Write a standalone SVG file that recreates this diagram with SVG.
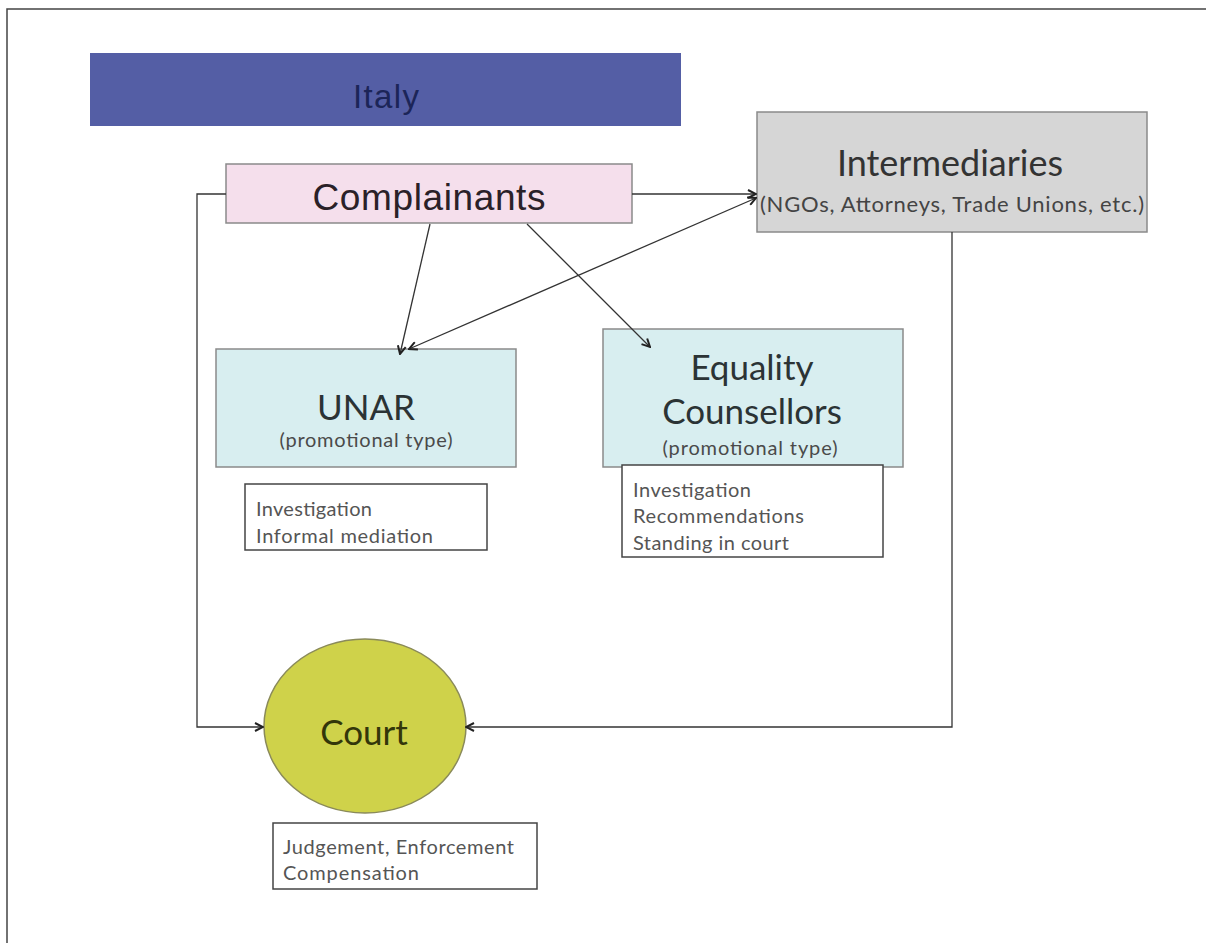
<svg xmlns="http://www.w3.org/2000/svg" width="1206" height="943" viewBox="0 0 1206 943">
<defs>
<marker id="arr" viewBox="0 0 10 10" refX="9" refY="5" markerWidth="10" markerHeight="10" markerUnits="userSpaceOnUse" orient="auto-start-reverse">
<path d="M1,1 L9,5 L1,9" fill="none" stroke="#222" stroke-width="2"/>
</marker>
<style>
.cal{font-family:Lato,"Open Sans","Liberation Sans",sans-serif;}
.ar{font-family:"Liberation Sans",Arial,sans-serif;}
.box{stroke:#8a8a8a;stroke-width:1.5;}
.sub{fill:#fff;stroke:#444;stroke-width:1.5;}
.conn{fill:none;stroke:#333;stroke-width:1.3;}
.small{font-size:20px;fill:#555;}
.promo{fill:#4a4a4a;font-size:20px;}
.title{font-size:35px;fill:#2b3335;}
</style>
</defs>
<rect width="1206" height="943" fill="#fff"/>
<path d="M7,943 V9 H1206" fill="none" stroke="#444" stroke-width="1.5"/>

<g id="italy">
<rect x="90" y="53" width="591" height="73" fill="#545ea5"/>
<text x="386" y="108" text-anchor="middle" class="ar" font-size="33" fill="#1c2558" textLength="66">Italy</text>
</g>

<g id="complainants">
<rect class="box" x="226" y="164" width="406" height="59" fill="#f5dfec"/>
<text x="429" y="210" text-anchor="middle" class="ar" font-size="37" fill="#2a2128" textLength="233">Complainants</text>
</g>

<g id="intermediaries">
<rect class="box" x="757" y="112" width="390" height="120" fill="#d6d6d6"/>
<text x="950" y="176" text-anchor="middle" class="cal" font-size="36" fill="#333">Intermediaries</text>
<text x="952" y="212" text-anchor="middle" class="cal" font-size="22" fill="#444" textLength="384">(NGOs, Attorneys, Trade Unions, etc.)</text>
</g>

<g id="unar">
<rect class="box" x="216" y="349" width="300" height="118" fill="#d8eef0"/>
<text x="366" y="420" text-anchor="middle" class="cal title">UNAR</text>
<text x="366" y="447" text-anchor="middle" class="cal promo" textLength="173">(promotional type)</text>
</g>

<g id="unar-tasks">
<rect class="sub" x="245" y="484" width="242" height="66"/>
<text x="256" y="516" class="cal small" textLength="116">Investigation</text>
<text x="256" y="543" class="cal small" textLength="177">Informal mediation</text>
</g>

<g id="equality">
<rect class="box" x="603" y="329" width="300" height="138" fill="#d8eef0"/>
<text x="752" y="380" text-anchor="middle" class="cal title">Equality</text>
<text x="752" y="424" text-anchor="middle" class="cal title">Counsellors</text>
<text x="750" y="455" text-anchor="middle" class="cal promo" textLength="175">(promotional type)</text>
</g>

<g id="equality-tasks">
<rect class="sub" x="622" y="465" width="261" height="92"/>
<text x="633" y="497" class="cal small" textLength="118">Investigation</text>
<text x="633" y="523" class="cal small" textLength="171">Recommendations</text>
<text x="633" y="550" class="cal small" textLength="156">Standing in court</text>
</g>

<g id="court">
<ellipse cx="365" cy="726" rx="101" ry="87" fill="#cfd24a" stroke="#8a8a5a" stroke-width="1.5"/>
<text x="364" y="745" text-anchor="middle" class="cal title" style="fill:#33360a">Court</text>
</g>

<g id="court-tasks">
<rect class="sub" x="273" y="823" width="264" height="66"/>
<text x="283" y="854" class="cal small" textLength="231">Judgement, Enforcement</text>
<text x="283" y="880" class="cal small" textLength="136">Compensation</text>
</g>

<g id="connectors">
<path class="conn" d="M226,194 H197 V727 H263" marker-end="url(#arr)"/>
<path class="conn" d="M632,194 H756" marker-end="url(#arr)"/>
<path class="conn" d="M952,232 V727 H466" marker-end="url(#arr)"/>
<path class="conn" d="M430,224 L400,354" marker-end="url(#arr)"/>
<path class="conn" d="M527,224 L650,347" marker-end="url(#arr)"/>
<path class="conn" d="M756,198 L409,349" marker-start="url(#arr)" marker-end="url(#arr)"/>
</g>
</svg>
